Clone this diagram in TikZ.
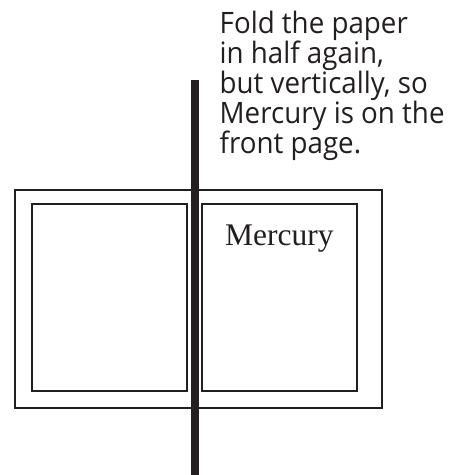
\documentclass[tikz,border=0pt]{standalone}
\usepackage{fontspec}
\setmainfont{Liberation Serif}
\newfontfamily\captionfont[FakeStretch=0.94]{Open Sans}
\definecolor{ink}{HTML}{231F20}
\begin{document}
\begin{tikzpicture}[x=1pt,y=-1pt,
  frame/.style={draw=ink,line width=2pt},
  foldbar/.style={fill=ink,draw=none},
  captiontext/.style={anchor=north west,inner sep=0pt,align=left,text=ink,
    font=\captionfont\fontsize{29.5}{30}\selectfont},
  pagelabel/.style={anchor=base west,inner sep=0pt,text=ink,
    font=\fontsize{31.5}{31.5}\selectfont}]
\useasboundingbox (0,0) rectangle (456,475);
% outer sheet
\draw[frame] (15,189.5) rectangle (381.7,407.7);
% inner pages
\draw[frame] (32,204) rectangle (186.7,391);
\draw[frame] (202,204.3) rectangle (356.7,391);
% fold bar
\fill[foldbar] (191.2,80) rectangle (199,475);
% texts
\node[captiontext] (caption) at (219.5,10.8) {Fold the paper\\in half again,\\but vertically, so\\Mercury is on the\\front page.};
\node[pagelabel] (mercury) at (225,245.7) {Mercury};
\end{tikzpicture}
\end{document}
